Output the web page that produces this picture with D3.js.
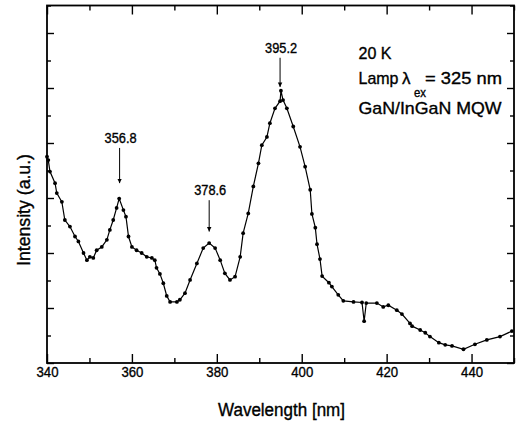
<!DOCTYPE html>
<html>
<head>
<meta charset="utf-8">
<script src="https://cdn.jsdelivr.net/npm/d3@7"></script>
<style>
  html, body { margin: 0; padding: 0; background: #fff; }
  svg { display: block; font-family: "Liberation Sans", Arial, sans-serif; }
  text { stroke: #000; stroke-width: 0.35px; fill: #000; }
</style>
</head>
<body>
<svg id="chart" width="524" height="423"></svg>
<script>
// ---- data ----
const wavelength = [
  340.0, 340.3, 340.7, 341.9, 342.3, 343.5, 344.2, 345.4, 346.6, 347.4,
  348.6, 349.4, 350.1, 350.9, 351.7, 352.9, 354.1, 354.8, 355.6, 356.4,
  357.0, 358.0, 358.6, 359.2, 360.0, 361.1, 362.3, 363.5, 364.7, 365.4,
  365.8, 366.6, 367.4, 368.2, 369.0, 370.6, 371.3, 372.5, 373.7, 375.3,
  376.8, 378.2, 379.6, 380.8, 381.9, 383.1, 384.3, 385.5, 386.2, 387.4,
  388.6, 389.8, 390.6, 391.8, 392.5, 393.7, 394.9, 395.1, 395.6, 396.5,
  398.0, 399.6, 400.8, 402.0, 402.4, 403.2, 403.6, 404.3, 404.8, 406.4,
  407.1, 408.6, 409.8, 412.2, 414.2, 414.7, 415.2, 417.7, 419.2, 420.4,
  422.4, 423.6, 425.5, 426.0, 427.9, 429.1, 430.2, 432.3, 433.8, 435.4,
  438.1, 440.8, 443.6, 446.7, 449.5
];
const intensity = [
  3.75, 3.69, 3.48, 3.27, 3.09, 2.93, 2.60, 2.48, 2.30, 2.21,
  2.00, 1.87, 1.93, 1.91, 2.05, 2.11, 2.24, 2.42, 2.60, 2.82,
  2.99, 2.78, 2.66, 2.30, 2.11, 2.05, 2.00, 1.93, 1.91, 1.87,
  1.73, 1.62, 1.45, 1.22, 1.11, 1.11, 1.15, 1.27, 1.51, 1.81,
  2.09, 2.18, 2.09, 1.87, 1.63, 1.51, 1.57, 1.93, 2.36, 2.72,
  3.21, 3.63, 3.96, 4.11, 4.36, 4.63, 4.76, 4.95, 4.78, 4.63,
  4.30, 3.93, 3.57, 3.15, 2.71, 2.46, 2.16, 1.89, 1.58, 1.46,
  1.39, 1.24, 1.13, 1.11, 1.10, 0.76, 1.09, 1.09, 1.02, 1.05,
  0.96, 0.89, 0.72, 0.67, 0.60, 0.55, 0.48, 0.37, 0.33, 0.31,
  0.25, 0.34, 0.42, 0.48, 0.58
];
const xMajorTicks = [340, 360, 380, 400, 420, 440];
const xMinorTicks = [350, 370, 390, 410, 430, 450];
const yMajorTicks = [0, 1, 2, 3, 4, 5, 6];
const yMinorTicks = [0.5, 1.5, 2.5, 3.5, 4.5, 5.5, 6.5];
const peakLabels = ["356.8", "378.6", "395.2"];
const peakWavelengths = [357.1, 378.2, 394.9];
const peakArrowTop = [3.91, 2.96, 5.55];   // arrow start (intensity units)
const peakArrowTip = [3.27, 2.39, 5.02];   // arrow tip
const xTitle = "Wavelength [nm]";
const yTitle = "Intensity (a.u.)";
const infoLines = ["20 K", "Lamp", "λ", "ex", "= 325 nm", "GaN/InGaN MQW"];

// ---- chart ----
const svg = d3.select("#chart");
const L = 47, R = 514, T = 5.5, B = 363;
const x = d3.scaleLinear().domain([340, 450]).range([L, R]);
const y = d3.scaleLinear().domain([0, 6.5]).range([B, T]);

const data = wavelength.map((w, i) => ({ w, v: intensity[i] }));

// axes (ticks inward on all four sides)
function styleAxis(g) {
  g.select(".domain").remove();
  g.selectAll(".tick line").attr("stroke", "#000").attr("stroke-width", 1.4);
}
svg.append("g").attr("transform", `translate(0,${B})`)
  .call(d3.axisBottom(x).tickValues(xMajorTicks).tickSize(-9).tickPadding(3).tickFormat(d3.format("d")))
  .call(styleAxis)
  .call(g => g.selectAll("text")
    .attr("fill", "#000").attr("font-size", 15).attr("font-family", "Liberation Sans, Arial, sans-serif")
    .attr("textLength", 22).attr("lengthAdjust", "spacingAndGlyphs"));
svg.append("g").attr("transform", `translate(0,${B})`)
  .call(d3.axisBottom(x).tickValues(xMinorTicks).tickSize(-5).tickFormat(""))
  .call(styleAxis);
svg.append("g").attr("transform", `translate(0,${T})`)
  .call(d3.axisTop(x).tickValues(xMajorTicks).tickSize(-9).tickFormat(""))
  .call(styleAxis);
svg.append("g").attr("transform", `translate(0,${T})`)
  .call(d3.axisTop(x).tickValues(xMinorTicks).tickSize(-5).tickFormat(""))
  .call(styleAxis);
svg.append("g").attr("transform", `translate(${L},0)`)
  .call(d3.axisLeft(y).tickValues(yMajorTicks).tickSize(-7).tickFormat(""))
  .call(styleAxis);
svg.append("g").attr("transform", `translate(${L},0)`)
  .call(d3.axisLeft(y).tickValues(yMinorTicks).tickSize(-4).tickFormat(""))
  .call(styleAxis);
svg.append("g").attr("transform", `translate(${R},0)`)
  .call(d3.axisRight(y).tickValues(yMajorTicks).tickSize(-7).tickFormat(""))
  .call(styleAxis);
svg.append("g").attr("transform", `translate(${R},0)`)
  .call(d3.axisRight(y).tickValues(yMinorTicks).tickSize(-4).tickFormat(""))
  .call(styleAxis);

// frame
svg.append("rect").attr("x", L).attr("y", T).attr("width", R - L).attr("height", B - T)
  .attr("fill", "none").attr("stroke", "#000").attr("stroke-width", 1.8);

// data line + dots
svg.append("path").datum(data)
  .attr("fill", "none").attr("stroke", "#000").attr("stroke-width", 1.2)
  .attr("d", d3.line().x(d => x(d.w)).y(d => y(d.v)));
svg.append("g").selectAll("circle").data(data).join("circle")
  .attr("cx", d => x(d.w)).attr("cy", d => y(d.v)).attr("r", 1.9).attr("fill", "#000");

// peak annotations
const defs = svg.append("defs");
defs.append("marker").attr("id", "ah").attr("viewBox", "0 0 10 10")
  .attr("refX", 10).attr("refY", 5).attr("markerWidth", 4.5).attr("markerHeight", 8)
  .attr("markerUnits", "userSpaceOnUse").attr("orient", "auto")
  .append("path").attr("d", "M0,0 L10,5 L0,10 Z").attr("fill", "#000");

peakLabels.forEach((lab, i) => {
  const px = x(peakWavelengths[i]);
  const y0 = y(peakArrowTop[i]);
  const y1 = y(peakArrowTip[i]);
  svg.append("line").attr("x1", px).attr("x2", px).attr("y1", y0).attr("y2", y1)
    .attr("stroke", "#000").attr("stroke-width", 1).attr("marker-end", "url(#ah)");
  svg.append("text").attr("x", px + 1).attr("y", y0 - 5)
    .attr("text-anchor", "middle").attr("font-size", 14)
    .attr("textLength", 32).attr("lengthAdjust", "spacingAndGlyphs")
    .text(lab);
});

// info text
const info = svg.append("g");
info.append("text").attr("x", 358.5).attr("y", 58.5).attr("font-size", 17)
  .attr("textLength", 33).attr("lengthAdjust", "spacingAndGlyphs").text(infoLines[0]);
info.append("text").attr("x", 358.5).attr("y", 83.5).attr("font-size", 17)
  .attr("textLength", 40).attr("lengthAdjust", "spacingAndGlyphs").text(infoLines[1]);
info.append("text").attr("x", 402).attr("y", 83.5).attr("font-size", 17).text(infoLines[2]);
info.append("text").attr("x", 414).attr("y", 96.5).attr("font-size", 12)
  .attr("textLength", 12).attr("lengthAdjust", "spacingAndGlyphs").text(infoLines[3]);
info.append("text").attr("x", 425).attr("y", 83.5).attr("font-size", 17)
  .attr("textLength", 77).attr("lengthAdjust", "spacingAndGlyphs").text(infoLines[4]);
info.append("text").attr("x", 358.5).attr("y", 113.5).attr("font-size", 17)
  .attr("textLength", 143).attr("lengthAdjust", "spacingAndGlyphs").text(infoLines[5]);

// axis titles
svg.append("text").attr("x", 281.5).attr("y", 416).attr("text-anchor", "middle")
  .attr("font-size", 18).attr("textLength", 127).attr("lengthAdjust", "spacingAndGlyphs")
  .text(xTitle);
svg.append("text").attr("transform", "translate(30,210) rotate(-90)").attr("text-anchor", "middle")
  .attr("font-size", 18).attr("textLength", 112).attr("lengthAdjust", "spacingAndGlyphs")
  .text(yTitle);
</script>
</body>
</html>
